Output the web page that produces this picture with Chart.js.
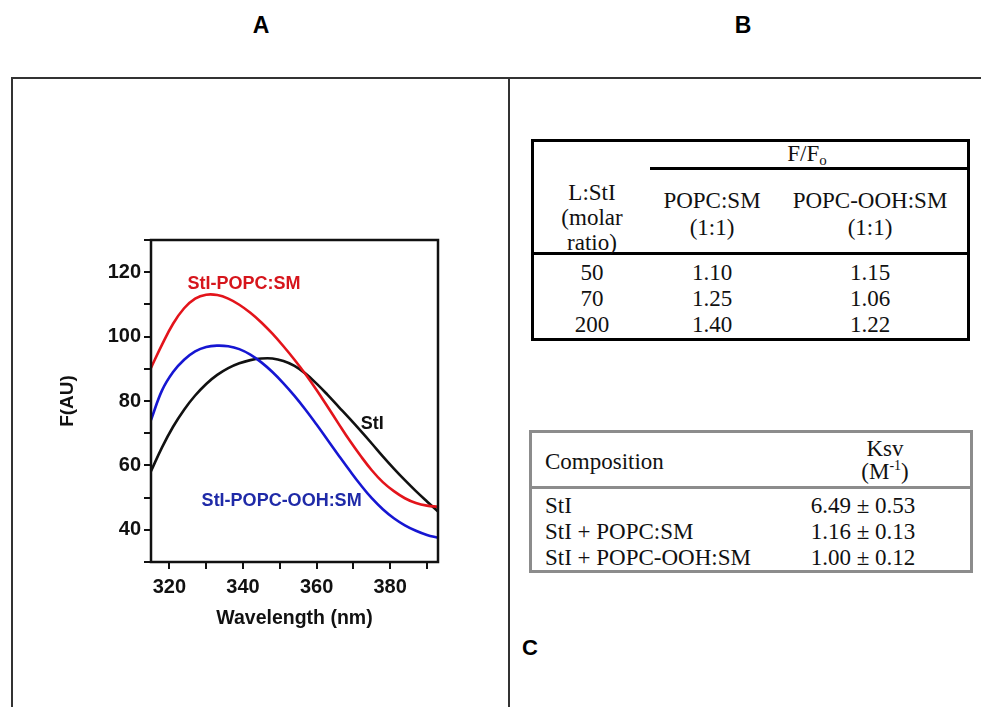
<!DOCTYPE html>
<html>
<head>
<meta charset="utf-8">
<script src="https://cdn.jsdelivr.net/npm/chart.js@4.4.0/dist/chart.umd.min.js"></script>
<style>
  html, body { margin: 0; padding: 0; background: #fff; }
  #page { position: relative; width: 981px; height: 707px; overflow: hidden; }
  .abs { position: absolute; }
  .rule { position: absolute; background: #333; }
  .panel { position: absolute; font-family: "Liberation Sans Narrow", "Liberation Sans", Arial, sans-serif; font-weight: bold; font-size: 23px; transform: translate(-50%, -50%); }
  .t { position: absolute; font-family: "Liberation Serif", "Times New Roman", serif; font-size: 23px; color: #111; white-space: nowrap; line-height: 1; }
  .c { transform: translate(-50%, -50%); }
  .l { transform: translate(0, -50%); }
  #chartBox { position: absolute; left: 40px; top: 225px; }
</style>
</head>
<body>
<div id="page">
  <div class="panel" style="left:261px; top:25px;">A</div>
  <div class="panel" style="left:743px; top:25px;">B</div>
  <div class="panel" style="left:530px; top:648px; font-family:'Liberation Sans', Arial, sans-serif; font-size:22px;">C</div>

  <div class="rule" style="left:11px; top:77px; width:970px; height:1.5px;"></div>
  <div class="rule" style="left:11px; top:77px; width:1.5px; height:630px;"></div>
  <div class="rule" style="left:508px; top:77px; width:1.5px; height:630px;"></div>

  <div id="chartBox"><canvas id="spectra" width="420" height="420"></canvas></div>

  <div id="tableB"></div>
  <div id="tableC"></div>
</div>

<script>
// Longitud de onda (nm) y fluorescencia (AU)
const wavelength = [315, 318, 321, 324, 327, 330, 333, 336, 339, 342, 345, 348, 351, 354,
                    357, 360, 363, 366, 369, 372, 375, 378, 381, 384, 387, 390, 393];
const stI = [58.2, 65.6, 72.0, 77.3, 81.7, 85.3, 88.1, 90.2, 91.7, 92.7, 93.2, 93.2, 92.4, 90.9,
             88.5, 85.4, 81.9, 78.2, 74.5, 70.7, 66.8, 62.8, 59.0, 55.4, 52.0, 48.8, 45.7];
const stIPopcSm = [90.3, 97.5, 104.0, 108.8, 111.8, 113.0, 112.9, 111.8, 109.9, 107.4, 104.4, 100.9, 97.0, 92.8,
                   88.3, 83.4, 78.2, 72.9, 67.7, 62.9, 58.5, 54.8, 52.0, 49.8, 48.3, 47.5, 47.2];
const stIPopcOohSm = [74.1, 83.3, 89.0, 92.8, 95.4, 96.8, 97.2, 97.0, 96.1, 94.4, 92.0, 89.0, 85.5, 81.6,
                      77.3, 72.7, 67.9, 63.1, 58.4, 53.9, 49.8, 46.4, 43.6, 41.4, 39.7, 38.4, 37.5];

const xTicks = [320, 330, 340, 350, 360, 370, 380, 390];
const xLabels = [320, 340, 360, 380];
const yTicks = [30, 40, 50, 60, 70, 80, 90, 100, 110, 120, 130];
const yLabels = [40, 60, 80, 100, 120];

// Tabla B: F/Fo
const molarRatio = ['50', '70', '200'];
const ffoPopcSm = ['1.10', '1.25', '1.40'];
const ffoPopcOohSm = ['1.15', '1.06', '1.22'];

// Tabla C: Ksv
const composition = ['StI', 'StI + POPC:SM', 'StI + POPC-OOH:SM'];
const ksv = ['6.49 ± 0.53', '1.16 ± 0.13', '1.00 ± 0.12'];

const RED = '#e3141b';
const BLUE = '#1616d2';
const INK = '#111111';

function toPoints(ys) {
    return wavelength.map((x, i) => ({ x, y: ys[i] }));
}

// Etiquetas de curva dentro del grafico (en coordenadas de datos)
const curveLabels = [
    { text: 'StI-POPC:SM', x: 340.3, y: 116.3, color: '#d6151c' },
    { text: 'StI', x: 375.1, y: 72.9, color: INK },
    { text: 'StI-POPC-OOH:SM', x: 350.5, y: 49.0, color: '#1f2aa8' }
];

const frameAndLabels = {
    id: 'frameAndLabels',
    afterDatasetsDraw(chart) {
        const { ctx, chartArea: a, scales } = chart;
        ctx.save();
        ctx.font = 'bold 18px "Liberation Sans", Arial, sans-serif';
        ctx.textAlign = 'center';
        ctx.textBaseline = 'middle';
        curveLabels.forEach(lb => {
            ctx.fillStyle = lb.color;
            ctx.fillText(lb.text, scales.x.getPixelForValue(lb.x), scales.y.getPixelForValue(lb.y));
        });
        ctx.strokeStyle = INK;
        ctx.lineWidth = 2.5;
        ctx.strokeRect(a.left, a.top, a.right - a.left, a.bottom - a.top);
        ctx.restore();
    }
};

const tickFont = { family: '"Liberation Sans", Arial, sans-serif', size: 20, weight: 'bold' };

new Chart(document.getElementById('spectra').getContext('2d'), {
    type: 'line',
    data: {
        datasets: [
            { label: 'StI-POPC:SM', data: toPoints(stIPopcSm), borderColor: RED },
            { label: 'StI-POPC-OOH:SM', data: toPoints(stIPopcOohSm), borderColor: BLUE },
            { label: 'StI', data: toPoints(stI), borderColor: INK }
        ]
    },
    options: {
        responsive: false,
        animation: false,
        devicePixelRatio: 1,
        layout: { padding: { top: 13, right: 22, bottom: 13, left: 0 } },
        elements: {
            point: { radius: 0 },
            line: { borderWidth: 2.6, tension: 0.4, fill: false }
        },
        plugins: { legend: { display: false }, tooltip: { enabled: false } },
        scales: {
            x: {
                type: 'linear',
                min: 315,
                max: 393,
                afterBuildTicks: s => { s.ticks = xTicks.map(v => ({ value: v })); },
                afterFit: s => { s.height = 70; },
                border: { display: false },
                grid: { drawOnChartArea: false, drawTicks: true, tickLength: 7, color: INK, lineWidth: 2 },
                ticks: {
                    autoSkip: false, maxRotation: 0, padding: 6, color: INK, font: tickFont,
                    callback: v => xLabels.includes(v) ? String(v) : ''
                },
                title: {
                    display: true, text: 'Wavelength (nm)', color: INK,
                    font: { family: '"Liberation Sans", Arial, sans-serif', size: 19.5, weight: 'bold' },
                    padding: { top: 0, bottom: 2 }
                }
            },
            y: {
                min: 30,
                max: 130,
                afterBuildTicks: s => { s.ticks = yTicks.map(v => ({ value: v })); },
                afterFit: s => { s.width = 111; },
                border: { display: false },
                grid: { drawOnChartArea: false, drawTicks: true, tickLength: 7, color: INK, lineWidth: 2 },
                ticks: {
                    autoSkip: false, padding: 3, color: INK, font: tickFont,
                    callback: v => yLabels.includes(v) ? String(v) : ''
                },
                title: {
                    display: true, text: 'F(AU)', color: INK,
                    font: { family: '"Liberation Sans", Arial, sans-serif', size: 19, weight: 'bold' },
                    padding: { top: 16, bottom: 0 }
                }
            }
        }
    },
    plugins: [frameAndLabels]
});

// Construye las tablas como texto HTML
function addBox(parent, css) {
    const d = document.createElement('div');
    d.className = 'abs';
    d.style.cssText = css;
    parent.appendChild(d);
}
function addText(parent, html, x, y, cls) {
    const d = document.createElement('div');
    d.className = 't ' + cls;
    d.style.left = x + 'px';
    d.style.top = y + 'px';
    d.innerHTML = html;
    parent.appendChild(d);
}

const tb = document.getElementById('tableB');
addBox(tb, 'left:531px;top:139px;width:439px;height:202px;border:3px solid #000;box-sizing:border-box;');
addBox(tb, 'left:650px;top:167px;width:320px;height:3px;background:#000;');
addBox(tb, 'left:531px;top:252px;width:439px;height:3px;background:#000;');
addText(tb, 'F/F<span style="font-size:15px;position:relative;top:4px;">o</span>', 807, 153, 'c');
addText(tb, 'L:StI', 592, 192, 'c');
addText(tb, '(molar', 592, 217, 'c');
addText(tb, 'ratio)', 592, 242, 'c');
addText(tb, 'POPC:SM', 712, 200, 'c');
addText(tb, '(1:1)', 712, 227, 'c');
addText(tb, 'POPC-OOH:SM', 870, 200, 'c');
addText(tb, '(1:1)', 870, 227, 'c');
molarRatio.forEach((r, i) => {
    const y = 272 + i * 26;
    addText(tb, r, 592, y, 'c');
    addText(tb, ffoPopcSm[i], 712, y, 'c');
    addText(tb, ffoPopcOohSm[i], 870, y, 'c');
});

const tc = document.getElementById('tableC');
addBox(tc, 'left:529px;top:430px;width:444px;height:143px;border:3px solid #8c8c8c;box-sizing:border-box;');
addBox(tc, 'left:529px;top:486px;width:444px;height:3px;background:#8c8c8c;');
addText(tc, 'Composition', 545, 461, 'l');
addText(tc, 'Ksv', 885, 448, 'c');
addText(tc, '(M<sup style="font-size:14px;">-1</sup>)', 885, 471, 'c');
composition.forEach((name, i) => {
    const y = 505 + i * 26;
    addText(tc, name, 545, y, 'l');
    addText(tc, ksv[i], 863, y, 'c');
});
</script>
</body>
</html>
